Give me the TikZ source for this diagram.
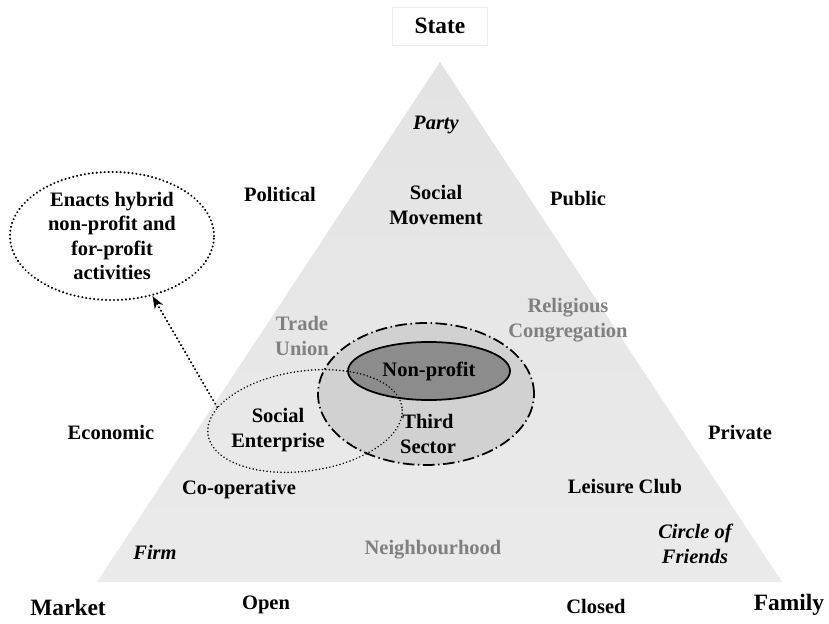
\documentclass[tikz,border=0pt]{standalone}
\usepackage{fontspec}
\setmainfont{Liberation Serif}
\usetikzlibrary{shapes,arrows.meta}

\begin{document}
\begin{tikzpicture}[x=0.03cm,y=-0.03cm]

\tikzstyle{every node}=[font=\fontsize{17.5}{21}\selectfont\bfseries, align=center, inner sep=1pt]
\tikzstyle{corner}=[font=\fontsize{20}{24}\selectfont\bfseries]
\tikzstyle{kind}=[font=\fontsize{17.5}{21}\selectfont\bfseries\itshape]
\tikzstyle{faded}=[text=black!50]
\tikzstyle{dots}=[line width=1.9pt, dash pattern=on 0.1pt off 3.3pt, line cap=round]
\tikzstyle{finedots}=[line width=1.4pt, dash pattern=on 0.1pt off 2.9pt, line cap=round]

\useasboundingbox (0,0) rectangle (829,624);

% the triangle
\coordinate (apex) at (440,62);
\coordinate (market corner) at (97,582);
\coordinate (family corner) at (782,582);
\shade[top color=black!11, middle color=black!3, bottom color=black!8]
	(apex) -- (market corner) -- (family corner) -- cycle;

% sectors
\node[ellipse, draw, line width=1.5pt, dash pattern=on 10pt off 3pt on 1.2pt off 3pt,
	fill=black!18, minimum width=6.48cm, minimum height=4.26cm] (third) at (426,394) {};
\node[ellipse, draw, line width=1.5pt, fill=black!45,
	minimum width=4.86cm, minimum height=1.74cm] (nonprofit) at (429,371) {Non-profit};
\node[ellipse, draw, finedots, rotate=8,
	minimum width=5.88cm, minimum height=3cm] (enterprise) at (305,421) {};
\node[ellipse, draw, dots, minimum width=6.12cm, minimum height=3.72cm] (enacts) at (112,236)
	{Enacts hybrid\\non-profit and\\for-profit\\activities};
\draw[dots, -{Stealth[length=11pt,width=8pt]}] (enterprise.163) -- (enacts.-56);

% corners
\node[corner, fill=white, draw=black!7, minimum width=2.85cm, minimum height=1.14cm] (state) at (440,26) {State};
\node[corner] (market) at (68,607) {Market};
\node[corner] (family) at (789,605) {Family};

% labels
\node[kind] (party) at (436,125) {Party};
\node (political) at (280,194) {Political};
\node (movement) at (436,205) {Social\\Movement};
\node (public) at (578,199) {Public};
\node[faded] (religious) at (568,320) {Religious\\Congregation};
\node[faded] (union) at (302,336) {Trade\\Union};
\node (economic) at (111,432) {Economic};
\node (enterprise label) at (278,430) {Social\\Enterprise};
\node (sector) at (428,434) {Third\\Sector};
\node (private) at (740,432) {Private};
\node (cooperative) at (239,490) {Co-operative};
\node (leisure) at (625,487) {Leisure Club};
\node[kind] (firm) at (155,552) {Firm};
\node[faded] (neighbourhood) at (433,550) {Neighbourhood};
\node[kind] (friends) at (695,544) {Circle of\\Friends};
\node (open) at (266,605) {Open};
\node (closed) at (596,606) {Closed};

\end{tikzpicture}
\end{document}
